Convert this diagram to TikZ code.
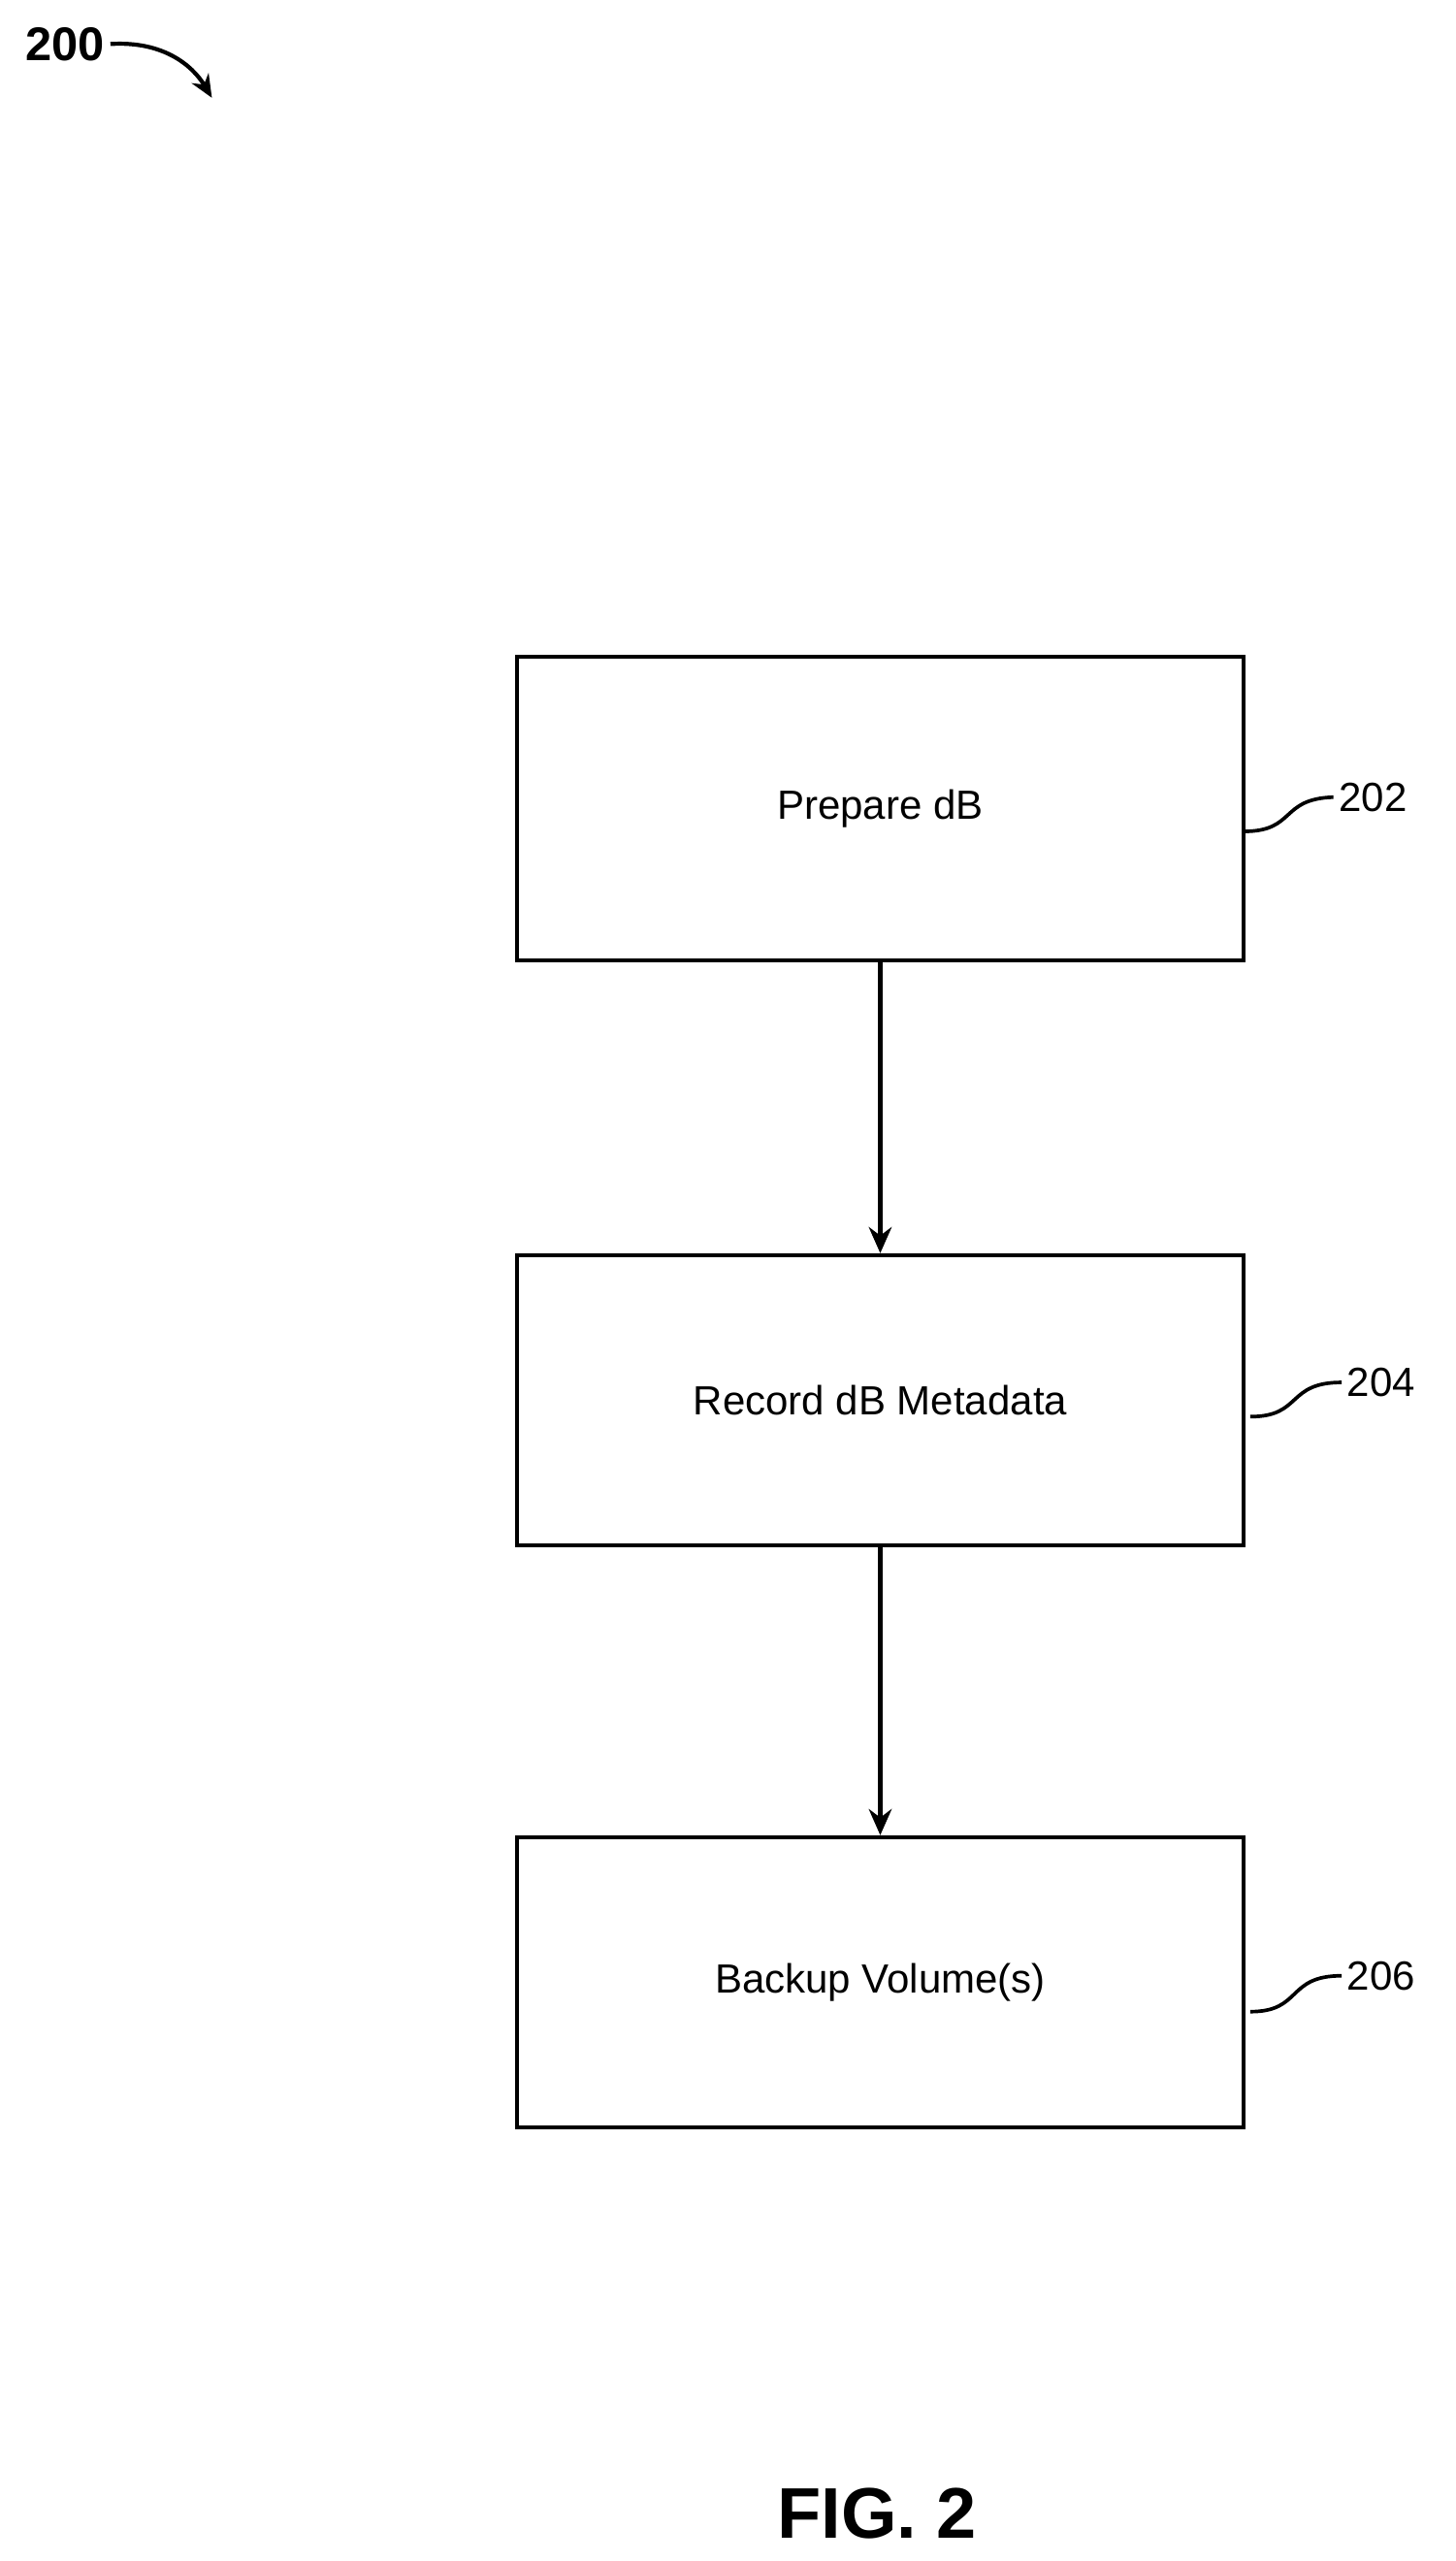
\documentclass[tikz,border=0pt]{standalone}
\usepackage{fontspec}
\setmainfont{Liberation Sans}
\usetikzlibrary{positioning,arrows.meta}

\tikzset{
  procbox/.style={draw, line width=2.5pt, minimum width=446pt, minimum height=180pt, font=\fontsize{25}{30}\selectfont},
  flow/.style={line width=2.5pt, -{Stealth[length=16pt,width=14pt]}},
  refnum/.style={font=\fontsize{25}{30}\selectfont, anchor=west},
  lead/.style={line width=2.2pt}
}

\begin{document}
\begin{tikzpicture}[x=1pt,y=-1pt]
\useasboundingbox (0,0) rectangle (893,1571);
% boxes
\node[procbox, minimum height=186pt] (prep) at (540,496) {Prepare dB};
\node[procbox, minimum height=178pt] (rec) at (540,859) {Record dB Metadata};
\node[procbox, minimum height=178pt] (bkp) at (540,1216) {Backup Volume(s)};
\draw[flow] (prep) -- (rec);
\draw[flow] (rec) -- (bkp);
% reference numerals
\node[refnum] (n202) at (818,489) {202};
\node[refnum] (n204) at (823,848) {204};
\node[refnum] (n206) at (823,1212) {206};
\coordinate (l202) at (763,510);
\coordinate (l204) at (767,869);
\coordinate (l206) at (767,1234);
\draw[lead] (l202) .. controls (795,510) and (785,490) .. (n202.west);
\draw[lead] (l204) .. controls (799,869) and (789,848) .. (n204.west);
\draw[lead] (l206) .. controls (799,1234) and (789,1212) .. (n206.west);
% figure label
\node[font=\bfseries\fontsize{29}{34}\selectfont] (fignum) at (40,27) {200};
\coordinate (figtip) at (130,60);
\draw[line width=2.5pt, -{Stealth[length=14pt,width=12pt]}] (fignum.east) .. controls (100,25) and (118,40) .. (figtip);
\node[font=\bfseries\fontsize{44}{50}\selectfont] (cap) at (538,1542) {FIG. 2};
\end{tikzpicture}
\end{document}
